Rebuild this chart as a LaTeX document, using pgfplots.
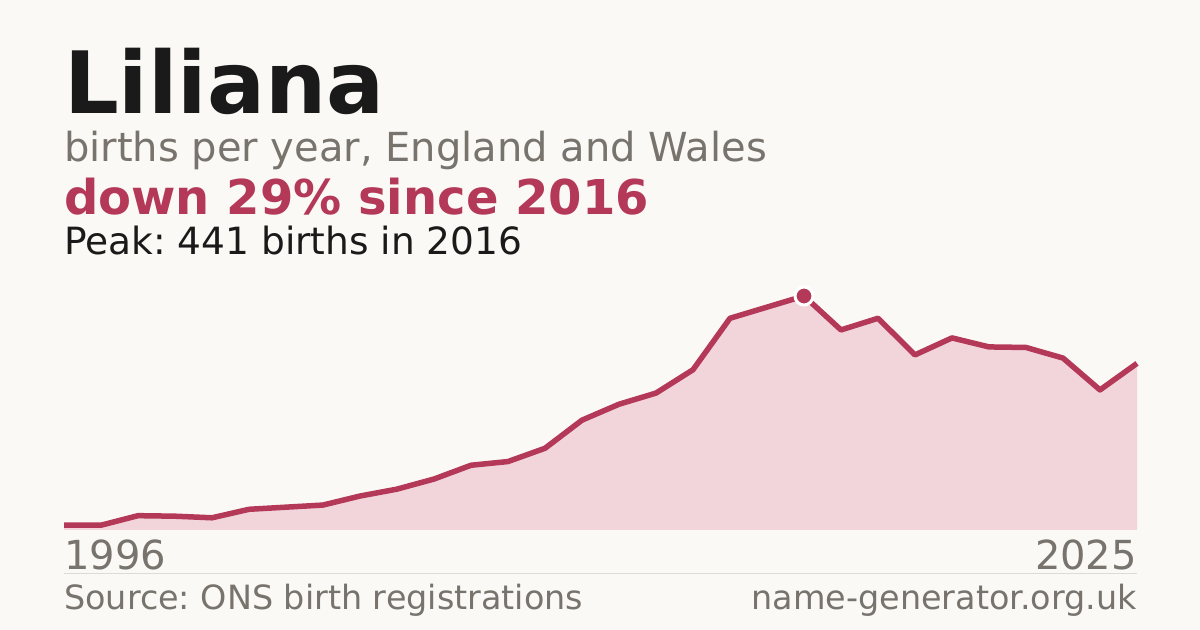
\documentclass[border=0pt]{standalone}
\usepackage{fontspec}
\setmainfont{DejaVu Sans}
\usepackage{pgfplots}
\pgfplotsset{compat=1.18}

\definecolor{bg}{RGB}{250,249,245}
\definecolor{accent}{RGB}{180,56,88}
\definecolor{areafill}{RGB}{241,213,219}
\definecolor{inkgray}{RGB}{120,115,108}
\definecolor{ink}{RGB}{26,26,26}
\definecolor{rule}{RGB}{222,219,213}

\frenchspacing
\begin{document}
\begin{tikzpicture}[x=1bp,y=1bp]
% canvas 1200 x 630, y measured upward from the bottom
\fill[bg] (0,0) rectangle (1200,630);

\node[anchor=base west,inner sep=0,text=ink] at (64,516)
  {\fontsize{86bp}{86bp}\selectfont\bfseries Liliana};
\node[anchor=base west,inner sep=0,text=inkgray] at (64,468.5)
  {\fontsize{40bp}{40bp}\selectfont births per year, England and Wales};
\node[anchor=base west,inner sep=0,text=accent] at (64,415)
  {\fontsize{48bp}{48bp}\selectfont\bfseries down 29\% since 2016};
\node[anchor=base west,inner sep=0,text=ink] at (64,375.5)
  {\fontsize{37.5bp}{37.5bp}\selectfont Peak: 441 births in 2016};

\begin{axis}[
    at={(64bp,100bp)}, anchor=south west,
    scale only axis, width=1073bp, height=234bp,
    xmin=1996, xmax=2025, ymin=0, ymax=441,
    axis lines=none, clip=false,
  ]
  \addplot[fill=areafill, draw=none] coordinates {
    (1996,9) (1997,9) (1998,27) (1999,26) (2000,23) (2001,39)
    (2002,43) (2003,47) (2004,64) (2005,77) (2006,96) (2007,122)
    (2008,129) (2009,154) (2010,207) (2011,237) (2012,258) (2013,302)
    (2014,399) (2015,420) (2016,441) (2017,377) (2018,399) (2019,330)
    (2020,362) (2021,345) (2022,344) (2023,324) (2024,264) (2025,314)
  } \closedcycle;
  \addplot[accent, line width=5.5bp, line join=round] coordinates {
    (1996,9) (1997,9) (1998,27) (1999,26) (2000,23) (2001,39)
    (2002,43) (2003,47) (2004,64) (2005,77) (2006,96) (2007,122)
    (2008,129) (2009,154) (2010,207) (2011,237) (2012,258) (2013,302)
    (2014,399) (2015,420) (2016,441) (2017,377) (2018,399) (2019,330)
    (2020,362) (2021,345) (2022,344) (2023,324) (2024,264) (2025,314)
  };
  % peak marker
  \addplot[only marks, mark=*, mark size=9bp,
    mark options={fill=accent, draw=white, line width=3bp}]
    coordinates {(2016,441)};
\end{axis}

\node[anchor=base west,inner sep=0,text=inkgray] at (64,60)
  {\fontsize{40bp}{40bp}\selectfont 1996};
\node[anchor=base east,inner sep=0,text=inkgray] at (1137,60)
  {\fontsize{40bp}{40bp}\selectfont 2025};
\draw[rule, line width=1bp] (64,56) -- (1137,56);
\node[anchor=base west,inner sep=0,text=inkgray] at (64,20)
  {\fontsize{33.4bp}{33.4bp}\selectfont Source: ONS birth registrations};
\node[anchor=base east,inner sep=0,text=inkgray] at (1137,20)
  {\fontsize{33.4bp}{33.4bp}\selectfont name-generator.org.uk};
\end{tikzpicture}
\end{document}
